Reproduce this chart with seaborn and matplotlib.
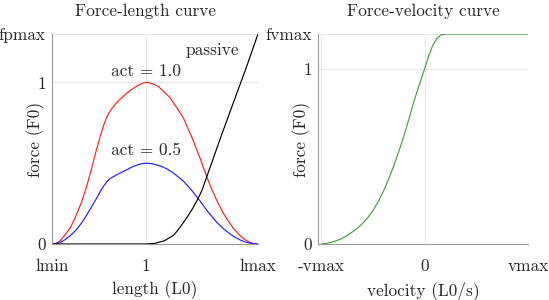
import numpy as np
import matplotlib
matplotlib.use("Agg")
import matplotlib.pyplot as plt
import seaborn as sns

# force-length curves (length in L0, force in F0)
red_len = [0.5, 0.52, 0.543, 0.569, 0.596, 0.623, 0.659, 0.685, 0.712, 0.735, 0.756,
           0.776, 0.79, 0.805, 0.819, 0.845, 0.872, 0.90, 0.934, 0.965, 0.985, 1.0,
           1.02, 1.05, 1.07, 1.094, 1.13, 1.166, 1.201, 1.246, 1.29, 1.326, 1.35,
           1.38, 1.42, 1.468, 1.51, 1.535, 1.557, 1.58, 1.6]
red_force = [0, 0.004, 0.018, 0.056, 0.097, 0.160, 0.263, 0.356, 0.47, 0.573, 0.662,
             0.735, 0.778, 0.812, 0.838, 0.875, 0.905, 0.935, 0.964, 0.986, 0.996, 1.0,
             0.998, 0.986, 0.972, 0.948, 0.906, 0.845, 0.782, 0.664, 0.533, 0.417, 0.347,
             0.269, 0.18, 0.097, 0.045, 0.024, 0.01, 0.002, 0]

blue_len = [0.5, 0.52, 0.543, 0.57, 0.596, 0.632, 0.667, 0.70, 0.739, 0.76, 0.778,
            0.795, 0.81, 0.835, 0.863, 0.90, 0.934, 0.965, 0.985, 1.0, 1.02, 1.05,
            1.08, 1.112, 1.15, 1.201, 1.246, 1.29, 1.33, 1.38, 1.42, 1.468, 1.51,
            1.535, 1.557, 1.58, 1.6]
blue_force = [0, 0.002, 0.009, 0.027, 0.05, 0.09, 0.145, 0.208, 0.285, 0.33, 0.362,
              0.388, 0.405, 0.422, 0.439, 0.46, 0.48, 0.493, 0.498, 0.5, 0.499, 0.493,
              0.482, 0.466, 0.438, 0.39, 0.332, 0.267, 0.203, 0.134, 0.09, 0.048, 0.022,
              0.012, 0.005, 0.001, 0]

passive_len = [0.5, 1.0, 1.05, 1.1, 1.15, 1.175, 1.2, 1.225, 1.25, 1.275, 1.3,
               1.326, 1.406, 1.468, 1.54, 1.6]
passive_force = [0, 0, 0.004, 0.02, 0.055, 0.09, 0.13, 0.172, 0.218, 0.27, 0.33,
                 0.415, 0.677, 0.873, 1.101, 1.3]

# force-velocity curve (velocity in units of vmax)
velocity = [-1.0, -0.95, -0.9, -0.85, -0.8, -0.75, -0.7, -0.65, -0.6, -0.55, -0.5,
            -0.45, -0.4, -0.35, -0.3, -0.25, -0.2, -0.15, -0.1, -0.05, 0.0,
            0.04, 0.08, 0.12, 0.16, 0.2, 1.0]
fv_force = [0, 0.003, 0.01, 0.019, 0.031, 0.048, 0.068, 0.09, 0.117, 0.15, 0.19,
            0.24, 0.298, 0.367, 0.443, 0.527, 0.617, 0.717, 0.82, 0.91, 1.0,
            1.075, 1.135, 1.175, 1.195, 1.2, 1.2]

fl_ticks = [0.5, 1.0, 1.6]
fl_ticklabels = ["lmin", "1", "lmax"]
fl_yticks = [0, 1, 1.3]
fl_yticklabels = ["0", "1", "fpmax"]
fv_ticks = [-1.0, 0.0, 1.0]
fv_ticklabels = ["-vmax", "0", "vmax"]
fv_yticks = [0, 1, 1.2]
fv_yticklabels = ["0", "1", "fvmax"]

sns.set_style("white")
plt.rcParams["font.family"] = ["cmr10", "DejaVu Serif"]
plt.rcParams["axes.formatter.use_mathtext"] = True
fs = 12.4

fig = plt.figure(figsize=(5.49, 3.0), dpi=100)
ax1 = fig.add_axes([52 / 549, 56 / 300, 206 / 549, 210 / 300])
ax2 = fig.add_axes([318 / 549, 56 / 300, 210 / 549, 210 / 300])

lw = 0.85
sns.lineplot(x=red_len, y=red_force, color="#ff2020", linewidth=lw, ax=ax1)
sns.lineplot(x=blue_len, y=blue_force, color="#2020ff", linewidth=lw, ax=ax1)
sns.lineplot(x=passive_len, y=passive_force, color="black", linewidth=lw, ax=ax1)
sns.lineplot(x=velocity, y=fv_force, color="#44a044", linewidth=lw, ax=ax2)

ax1.text(1.0, 1.07, "act = 1.0", ha="center", va="center", fontsize=fs)
ax1.text(1.0, 0.58, "act = 0.5", ha="center", va="center", fontsize=fs)
ax1.text(1.354, 1.2, "passive", ha="center", va="center", fontsize=fs)

for ax, xt, xl, yt, yl, lim, ylim in [
        (ax1, fl_ticks, fl_ticklabels, fl_yticks, fl_yticklabels, (0.5, 1.6), (0, 1.3)),
        (ax2, fv_ticks, fv_ticklabels, fv_yticks, fv_yticklabels, (-1.03, 1.0), (0, 1.2))]:
    ax.set_xlim(*lim)
    ax.set_ylim(*ylim)
    ax.set_xticks(xt)
    ax.set_xticklabels(xl, fontsize=fs)
    ax.set_yticks(yt)
    ax.set_yticklabels(yl, fontsize=fs)
    ax.grid(True, color="#e8e8e8", linewidth=0.8)
    ax.set_axisbelow(True)
    for s in ["top", "right"]:
        ax.spines[s].set_visible(False)
    for s in ["left", "bottom"]:
        ax.spines[s].set_color("#9a9a9a")
        ax.spines[s].set_linewidth(0.8)
    ax.tick_params(axis="both", length=3, width=0.8, color="#9a9a9a", direction="out")
    ax.tick_params(axis="x", pad=7.5)
    ax.tick_params(axis="y", pad=1.5)
    ax.set_ylabel("force (F0)", fontsize=fs)
    ax.yaxis.set_label_coords(-0.035, 0.5)
    ax.xaxis.set_label_coords(0.5, -0.175)

ax1.set_xlabel("length (L0)", fontsize=fs)
ax2.set_xlabel("velocity (L0/s)", fontsize=fs)
ax1.set_title("Force-length curve", fontsize=fs, x=0.455, pad=13)
ax2.set_title("Force-velocity curve", fontsize=fs, pad=13)

fig.savefig("out.png", dpi=100)
